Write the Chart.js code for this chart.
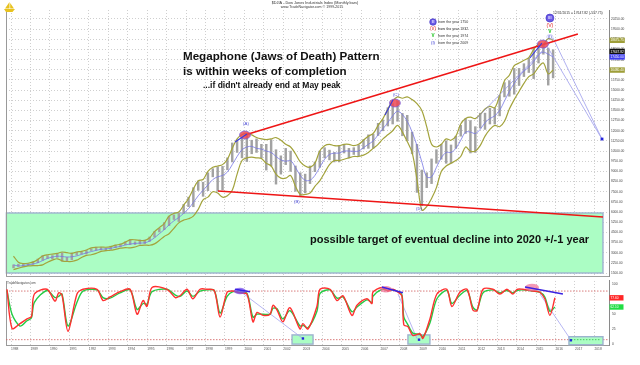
<!DOCTYPE html>
<html><head><meta charset="utf-8">
<script src="https://cdn.jsdelivr.net/npm/chart.js@4.4.1/dist/chart.umd.min.js"></script>
<style>
html,body{margin:0;padding:0;background:#fff;}
#wrap{position:relative;width:640px;height:365px;overflow:hidden;background:#fff;}
#c1{position:absolute;left:0;top:0;}
#c2{position:absolute;left:0;top:276px;}
</style></head><body>
<div id="wrap"><canvas id="c1" width="640" height="280"></canvas><canvas id="c2" width="640" height="89"></canvas></div>
<script>
const FAMILY = "'Liberation Sans', Arial, Helvetica, sans-serif";
const firstYear = 1988;
const xMin = 1987.74, xMax = 2018.75;

const yearTicks = [1988,1989,1990,1991,1992,1993,1994,1995,1996,1997,1998,1999,2000,2001,2002,2003,2004,2005,2006,2007,2008,2009,2010,2011,2012,2013,2014,2015,2016,2017,2018];
const priceTicks = [1500,2250,3000,3750,4500,5250,6000,6750,7500,8250,9000,9750,10500,11250,12000,12750,13500,14250,15000,15750,16500,17250,18000,18750,19500,20250];
const oscTicks = [0,25,50,75,100];

// quarterly price ranges 1988 Q1 .. 2015 Q4
const priceLow = [
1880,1980,1990,2040, 2140,2260,2440,2570, 2540,2650,2365,2365, 2470,2830,2900,2900,
3160,3180,3200,3140, 3240,3370,3450,3580, 3590,3600,3630,3670, 3830,4150,4530,4700,
5000,5450,5300,5900, 6400,6390,7600,7160, 7580,8600,7540,7630, 9120,9700,10400,10000,
9730,10300,10400,10000, 9100,9400,8060,8800, 9500,9000,7530,7200, 7420,8100,8980,9300,
10000,9850,9700,9700, 10360,10000,10250,10150, 10660,10700,10700,11650, 12000,12350,12500,12700,
11630,11280,10300,7450, 6470,7800,8100,9600, 9900,9600,9600,10700, 11600,11800,10360,10400,
12200,12100,12500,12500, 13100,14500,14550,14700, 15340,16000,16300,15850, 17000,17650,15370,15900];
const priceHigh = [
2100,2150,2150,2190, 2340,2530,2790,2790, 2790,2935,3000,2650, 2980,3040,3060,3170,
3290,3410,3400,3330, 3480,3560,3650,3800, 3980,3800,3950,3940, 4160,4560,4800,5220,
5700,5790,5900,6560, 7100,7800,8300,8200, 8900,9200,9340,9370, 10000,11100,11330,11500,
11750,11300,11400,11000, 11000,11350,10600,10150, 10700,10500,9400,8900, 8800,9400,9700,10500,
10750,10570,10400,10870, 10990,10700,10750,10950, 11350,11700,11750,12550, 12800,13700,14000,14200,
13280,13140,11900,11000, 9100,8900,9920,10600, 11000,11260,10950,11600, 12400,12900,12750,12300,
13300,13300,13650,13670, 14600,15550,15700,16600, 16600,16950,17350,18100, 18300,18350,18100,17980];
const movingAvg = [
2100,2020,2050,2110, 2160,2260,2420,2580, 2680,2740,2720,2680, 2700,2760,2870,2990,
3080,3170,3250,3280, 3320,3400,3470,3570, 3640,3680,3710,3730, 3860,4100,4400,4700,
5050,5350,5600,5900, 6250,6700,7200,7600, 8000,8400,8600,8700, 8950,9500,10100,10600,
10800,10850,10700,10650, 10500,10400,10100,9850, 9750,9800,9300,8700, 8350,8350,8700,9300,
9900,10250,10350,10350, 10500,10500,10480,10500, 10750,11000,11250,11700, 12150,12600,13100,13450,
13200,12700,11900,10900, 9700,8600,8600,9300, 10000,10400,10400,10700, 11300,11900,11900,11800,
12100,12600,12900,13100, 13500,14200,14900,15500, 16000,16400,16700,17100, 17600,17800,17650,17450];
const upperBand = [
2750,2300,2200,2220, 2300,2500,2750,2850, 2900,2950,3050,3000, 2950,3050,3100,3200,
3350,3400,3420,3400, 3450,3560,3620,3780, 3950,3950,3900,3900, 4100,4550,4850,5150,
5700,5900,6000,6500, 7000,7700,8300,8400, 9000,9300,9400,9500, 9900,10700,11400,11700,
11800,11700,11500,11400, 11350,11400,11500,11300, 11000,10800,10300,9700, 9400,9300,9600,10500,
10900,11000,10900,10900, 11000,11000,10900,11000, 11300,11600,11800,12400, 12900,13600,14200,14500,
14400,14500,14300,14000, 13500,12300,11000,10800, 11000,11400,11300,11600, 12500,12900,13000,12900,
13200,13600,13800,13700, 14600,15700,16100,16800, 17000,17200,17400,18000, 18400,18400,18800,18675.75];
const lowerBand = [
1750,1850,1950,2020, 2050,2050,2100,2300, 2450,2550,2400,2350, 2350,2450,2650,2800,
2850,2950,3100,3150, 3180,3250,3330,3380, 3350,3420,3530,3560, 3550,3650,3900,4200,
4400,4800,5200,5400, 5500,5700,6200,6900, 7100,7500,7400,7100, 7200,7600,8800,9800,
10000,10050,10000,9950, 9600,9400,8800,8500, 8500,8700,7900,7300, 7300,7400,7900,8300,
8900,9500,9800,9800, 9900,10000,10100,10100, 10200,10400,10700,11000, 11400,11700,12000,12400,
11900,11200,10400,8400, 6150,6400,7000,7800, 9000,9400,9600,9800, 10100,10800,10500,10500,
10900,11600,12100,12400, 12300,12700,13600,14300, 14900,15500,16000,16200, 16700,17000,16200,16480.4];
const lastClose = 17647.82;
const lastChange = -537.75;

// annotations in data units [year, price]
const trendUpper = [[2000.03, 11685], [2017.15, 19138]];
const trendLower = [[1998.64, 7552], [2018.44, 5633]];
const projectionA = [[2015.87, 18843], [2018.39, 11389]];
const projectionB = [[2015.56, 18253], [2018.39, 11389]];
const channelLine = [[2011.96, 12940], [2015.71, 18470]];
const peakLines = [[[1999.52, 11170], [2000.13, 11760]], [[2007.23, 13160], [2007.64, 14270]], [[2014.68, 17370], [2015.30, 18470]]];
const peakMarks = [[2000.03, 11685], [2007.74, 14046], [2015.35, 18400]];
const targetPoint = [2018.39, 11389];
const targetZone = [1987.76, 2018.44, 1500, 5930];
const waveLabels = ['(A)', '(B)', '(C)', '(D)'];
const waveYears = [2000.08, 2002.70, 2007.79, 2008.98];
const wavePrices = [12500, 6740, 14640, 6220];
const degreeYear = 2015.71;
const degreePrices = [20320, 19800, 19290, 18920];
const degreeLegend = ['from the year 1750', 'from the year 1932', 'from the year 1974', 'from the year 2009'];

// oscillator (stochastic) readings
const oscX = [1987.79,1988.05,1988.46,1988.82,1989.05,1989.2,1989.85,1990.26,1990.45,1990.62,1990.93,1991.39,1991.70,1992.42,1992.73,1993.09,1993.60,1994.12,1994.48,1994.79,1994.99,1995.25,1996.02,1996.45,1996.69,1997.05,1997.35,1997.72,1998.08,1998.45,1998.75,1999.11,1999.41,1999.75,2000.13,2000.44,2000.65,2000.96,2001.32,2001.47,2001.68,2001.98,2002.34,2002.86,2003.01,2003.27,2003.73,2003.89,2004.40,2004.76,2005.07,2005.53,2005.79,2006.30,2006.56,2006.61,2007.07,2007.38,2007.64,2007.90,2008.10,2008.20,2008.41,2008.66,2009.03,2009.18,2009.54,2009.90,2010.41,2010.67,2011.08,2011.45,2011.75,2011.96,2012.27,2012.78,2013.14,2013.50,2013.81,2014.02,2014.32,2014.83,2015.19,2015.45,2015.71,2015.97];
const oscK = [92,26,34,42,46,84,92,72,86,82,21,84,92,92,73,79,88,92,50,73,63,95,92,78,81,92,76,92,92,90,45,87,89,86,84,37,53,48,50,65,57,37,61,25,34,25,63,92,92,73,81,48,65,76,68,87,95,89,92,87,81,32,29,14,17,9,42,84,92,63,87,92,57,56,92,92,84,92,84,92,92,89,87,76,48,77.6];
const oscD = [90,50,30,39,44,70,90,78,80,84,30,70,89,91,78,77,86,91,58,68,67,88,92,82,80,89,80,89,91,90,52,80,88,87,85,45,50,50,50,60,59,42,56,30,31,27,55,85,91,77,79,54,62,74,70,80,92,90,91,88,83,45,32,18,16,12,35,76,90,68,82,90,62,57,86,91,86,90,86,90,91,89,87,79,55,62.1];
const oscLevels = [89, 7];
const oscZones = [[2002.45, 2003.53, -0.5, 15], [2008.41, 2009.54, -0.5, 15], [2016.69, 2018.44, -1.5, 12]];
const oscTargets = [[2003.01, 9], [2008.98, 7], [2016.79, 6]];
const oscProjections = [[[1999.77, 89], [2002.96, 10]], [[2007.90, 84], [2008.87, 9]], [[2015.20, 84], [2016.74, 9]]];
const oscDivergences = [[[1999.52, 92], [2000.29, 88]], [[2007.07, 96], [2008.15, 86]], [[2014.43, 96], [2016.38, 84]]];
const oscMarks = [[1999.77, 89], [2007.28, 92], [2014.79, 95]];

// ---------- helpers ----------
const quarterX = priceLow.map((_, i) => firstYear + i * 0.25 + 0.125);
const pt = a => ({x: a[0], y: a[1]});
const seg = (pair, color, width, extra) => Object.assign({type: 'line', data: pair.map(pt), borderColor: color, borderWidth: width, pointRadius: 0, tension: 0, fill: false}, extra || {});
const font = (size, bold) => (bold ? 'bold ' : '') + size + 'px ' + FAMILY;

function ellipse(ctx, x, y, rx, ry, fill, stroke, lw) {
  ctx.save();
  ctx.beginPath();
  ctx.ellipse(x, y, rx, ry, 0, 0, Math.PI * 2);
  if (fill) { ctx.fillStyle = fill; ctx.fill(); }
  if (stroke) { ctx.strokeStyle = stroke; ctx.lineWidth = lw || 0.8; ctx.stroke(); }
  ctx.restore();
}
function text(ctx, str, x, y, f, color, align) {
  ctx.save();
  ctx.font = f; ctx.fillStyle = color; ctx.textAlign = align || 'left'; ctx.textBaseline = 'middle';
  ctx.fillText(str, x, y);
  ctx.restore();
}
function valueBox(ctx, x, y, str, bg, fg) {
  ctx.save();
  ctx.font = font(3.2);
  const w = Math.max(14, ctx.measureText(str).width + 2);
  ctx.fillStyle = bg; ctx.fillRect(x, y - 2.7, w, 5.4);
  ctx.fillStyle = fg; ctx.textBaseline = 'middle'; ctx.textAlign = 'left';
  ctx.fillText(str, x + 1, y + 0.2);
  ctx.restore();
}
function greenZone(ctx, x0, x1, y0, y1) {
  ctx.save();
  ctx.fillStyle = '#abfdc4';
  ctx.fillRect(x0, y1, x1 - x0, y0 - y1);
  ctx.strokeStyle = '#9db3cf'; ctx.lineWidth = 1.4;
  ctx.strokeRect(x0, y1, x1 - x0, y0 - y1);
  ctx.restore();
}
function circledNumeral(ctx, x, y, r) {
  ellipse(ctx, x, y, r, r, '#6b5be6', '#3b2bc0', 0.6);
  text(ctx, 'III', x, y + 0.2, font(r * 0.95, true), '#e8e4ff', 'center');
}

// ---------- main panel ----------
const mainDecor = {
  id: 'mainDecor',
  beforeDatasetsDraw(chart) {
    const {ctx, chartArea, scales: {x, y}} = chart;
    greenZone(ctx, x.getPixelForValue(targetZone[0]), x.getPixelForValue(targetZone[1]), y.getPixelForValue(targetZone[2]), y.getPixelForValue(targetZone[3]));
    ctx.save(); ctx.strokeStyle = '#9a9a9a'; ctx.lineWidth = 1;
    ctx.beginPath(); ctx.moveTo(chartArea.left + 0.5, chartArea.top); ctx.lineTo(chartArea.left + 0.5, chartArea.bottom); ctx.stroke(); ctx.restore();
  },
  afterDatasetsDraw(chart) {
    const {ctx, scales: {x, y}} = chart;
    peakMarks.forEach(p => {
      const px = x.getPixelForValue(p[0]), py = y.getPixelForValue(p[1]);
      ellipse(ctx, px, py, 5.5, 4, 'rgba(236,72,84,0.85)', 'rgba(110,90,230,0.9)', 0.7);
    });
    peakLines.forEach(l => {
      ctx.save(); ctx.strokeStyle = '#3a3ae0'; ctx.lineWidth = 1.1; ctx.beginPath();
      ctx.moveTo(x.getPixelForValue(l[0][0]), y.getPixelForValue(l[0][1]));
      ctx.lineTo(x.getPixelForValue(l[1][0]), y.getPixelForValue(l[1][1])); ctx.stroke(); ctx.restore();
    });
    waveLabels.forEach((s, i) => text(ctx, s, x.getPixelForValue(waveYears[i]), y.getPixelForValue(wavePrices[i]), font(4.3), '#4a4ad8', 'center'));
    const sx = x.getPixelForValue(degreeYear);
    circledNumeral(ctx, sx, y.getPixelForValue(degreePrices[0]), 4);
    text(ctx, '(V)', sx, y.getPixelForValue(degreePrices[1]), font(5.2), '#e02828', 'center');
    text(ctx, 'V', sx, y.getPixelForValue(degreePrices[2]), font(5, true), '#18c018', 'center');
    ellipse(ctx, sx, y.getPixelForValue(degreePrices[3]), 3.2, 2.6, null, '#b0b0f0', 0.5);
    text(ctx, '(I)', sx, y.getPixelForValue(degreePrices[3]), font(4.2), '#3030d0', 'center');
  },
  afterDraw(chart) {
    const {ctx, chartArea, scales: {x, y}} = chart;
    // logo
    ctx.save(); ctx.fillStyle = '#e8c21e';
    ctx.beginPath(); ctx.moveTo(4, 9); ctx.lineTo(15, 9); ctx.lineTo(12.5, 12); ctx.lineTo(6, 12); ctx.closePath(); ctx.fill();
    ctx.beginPath(); ctx.moveTo(9.5, 2); ctx.lineTo(9.5, 8.5); ctx.lineTo(5, 8.5); ctx.closePath(); ctx.fill();
    ctx.beginPath(); ctx.moveTo(10.2, 3); ctx.lineTo(14, 8.5); ctx.lineTo(10.2, 8.5); ctx.closePath(); ctx.fill();
    ctx.restore();
    // header
    text(ctx, '$DJIA - Dow Jones Industrials Index (Monthly bars)', 315, 3.4, font(3.8), '#333', 'center');
    text(ctx, 'www.TradeNavigator.com \u00A9 1999-2015', 312, 7.4, font(3.6), '#333', 'center');
    // commentary
    text(ctx, 'Megaphone (Jaws of Death) Pattern', 183, 56.5, font(11.6, true), '#111');
    text(ctx, 'is within weeks of completion', 183, 71.5, font(11.6, true), '#111');
    text(ctx, "...if didn't already end at May peak", 203, 86, font(8.5, true), '#111');
    text(ctx, 'possible target of eventual decline into 2020 +/-1 year', 310, 240, font(11, true), '#111');
    // degree legend
    const lx = 433, ly = [22, 29, 36, 43];
    circledNumeral(ctx, lx, ly[0], 3.3);
    text(ctx, '(V)', lx, ly[1], font(4.6), '#e02828', 'center');
    text(ctx, 'V', lx, ly[2], font(4.6, true), '#18c018', 'center');
    text(ctx, '(I)', lx, ly[3], font(4.2), '#3030d0', 'center');
    degreeLegend.forEach((s, i) => text(ctx, s, 438, ly[i], font(3.6), '#333'));
    // last value line
    text(ctx, '12/31/2015 = ' + lastClose.toFixed(2) + ' (' + (lastChange > 0 ? '+' : '') + lastChange.toFixed(2) + ')', 553, 12.8, font(3.4), '#333');
    // right-axis value boxes
    const bx = chartArea.right + 0.5;
    const n = movingAvg.length - 1;
    const yU = y.getPixelForValue(upperBand[n]);
    const yM = y.getPixelForValue(movingAvg[n]);
    let yC = y.getPixelForValue(lastClose);
    if (yM - yC < 5.5) yC = yM - 5.5;
    const yL = y.getPixelForValue(lowerBand[n]);
    valueBox(ctx, bx, yU, upperBand[n].toFixed(2), '#9e9e38', '#fff');
    valueBox(ctx, bx, yC, lastClose.toFixed(2), '#111', '#fff');
    valueBox(ctx, bx, yM, movingAvg[n].toFixed(2), '#3c3cf0', '#fff');
    valueBox(ctx, bx, yL, lowerBand[n].toFixed(2), '#9e9e38', '#fff');
  }
};

new Chart(document.getElementById('c1'), {
  type: 'line',
  data: {
    datasets: [
      seg(trendUpper, '#ee1515', 1.6),
      seg(trendLower, '#ee1515', 1.6),
      {type: 'line', data: [pt(targetPoint)], showLine: false, pointStyle: 'rect', pointRadius: 2, backgroundColor: '#2424dd', borderColor: '#2424dd', borderWidth: 0},
      seg(projectionA, '#9d9dec', 0.8),
      seg(projectionB, '#9d9dec', 0.8),
      seg(channelLine, '#8c8ce8', 0.7),
      {type: 'line', data: quarterX.map((x, i) => ({x, y: movingAvg[i]})), borderColor: '#7676e4', borderWidth: 0.8, pointRadius: 0, tension: 0.35},
      {type: 'line', data: quarterX.map((x, i) => ({x, y: upperBand[i]})), borderColor: '#a3a33c', borderWidth: 1.2, pointRadius: 0, tension: 0.35},
      {type: 'line', data: quarterX.map((x, i) => ({x, y: lowerBand[i]})), borderColor: '#a3a33c', borderWidth: 1.2, pointRadius: 0, tension: 0.35},
      {type: 'bar', data: quarterX.map((x, i) => ({x, y: [priceLow[i], priceHigh[i]]})), backgroundColor: '#a2a2a2', barThickness: 1.8, grouped: false}
    ]
  },
  options: {
    responsive: false, animation: false, events: [],
    layout: {padding: {left: 6, right: 0, top: 10, bottom: 4}, autoPadding: false},
    plugins: {legend: {display: false}, tooltip: {enabled: false}},
    scales: {
      x: {type: 'linear', min: xMin, max: xMax, offset: false,
          afterBuildTicks: s => { s.ticks = yearTicks.map(v => ({value: v})); },
          ticks: {display: false}, grid: {color: '#cfcfcf', drawTicks: false, offset: false},
          border: {dash: [1, 2], color: '#a0a0a0'},
          afterFit: s => { s.height = 0; }},
      y: {position: 'right', min: 1279, max: 20914,
          afterBuildTicks: s => { s.ticks = priceTicks.map(v => ({value: v})); },
          ticks: {callback: v => Number(v).toFixed(2), font: {size: 3.2, family: FAMILY}, color: '#444', padding: 2},
          grid: {color: '#cfcfcf', drawTicks: false},
          border: {dash: [1, 2], color: '#8a8a8a'},
          afterFit: s => { s.width = 31; }}
    }
  },
  plugins: [mainDecor]
});

// ---------- oscillator panel ----------
const oscDecor = {
  id: 'oscDecor',
  beforeDatasetsDraw(chart) {
    const {ctx, chartArea, scales: {x, y}} = chart;
    ctx.save(); ctx.strokeStyle = '#9a9a9a'; ctx.lineWidth = 1;
    ctx.beginPath(); ctx.moveTo(chartArea.left + 0.5, chartArea.top); ctx.lineTo(chartArea.left + 0.5, chartArea.bottom); ctx.stroke(); ctx.restore();
    oscLevels.forEach(v => {
      ctx.save(); ctx.strokeStyle = '#cf5a5a'; ctx.lineWidth = 0.8; ctx.setLineDash([1.5, 1.5]);
      ctx.beginPath(); ctx.moveTo(chartArea.left, y.getPixelForValue(v)); ctx.lineTo(chartArea.right, y.getPixelForValue(v)); ctx.stroke(); ctx.restore();
    });
    oscZones.forEach(z => greenZone(ctx, x.getPixelForValue(z[0]), x.getPixelForValue(z[1]), y.getPixelForValue(z[2]), y.getPixelForValue(z[3])));
    const last = oscZones[oscZones.length - 1];
    ctx.save(); ctx.strokeStyle = '#33bb44'; ctx.lineWidth = 0.8; ctx.setLineDash([1.5, 1.5]);
    ctx.beginPath(); ctx.moveTo(x.getPixelForValue(last[0]) + 2, y.getPixelForValue(oscLevels[1])); ctx.lineTo(x.getPixelForValue(last[1]) - 2, y.getPixelForValue(oscLevels[1])); ctx.stroke(); ctx.restore();
    text(ctx, 'TradeNavigator.com', 7, chartArea.top + 2.2, font(3.2), '#444');
  },
  afterDatasetsDraw(chart) {
    const {ctx, scales: {x, y}} = chart;
    oscMarks.forEach((m, i) => {
      const col = i === 0 ? 'rgba(120,80,235,0.75)' : 'rgba(240,110,150,0.7)';
      ellipse(ctx, x.getPixelForValue(m[0]), y.getPixelForValue(m[1]), i === 2 ? 7 : 6, i === 2 ? 3.8 : 3.2, col, null);
    });
    oscDivergences.forEach(l => {
      ctx.save(); ctx.strokeStyle = '#3a22e2'; ctx.lineWidth = 1.5; ctx.beginPath();
      ctx.moveTo(x.getPixelForValue(l[0][0]), y.getPixelForValue(l[0][1]));
      ctx.lineTo(x.getPixelForValue(l[1][0]), y.getPixelForValue(l[1][1])); ctx.stroke(); ctx.restore();
    });
  },
  afterDraw(chart) {
    const {ctx, chartArea, scales: {y}} = chart;
    const n = oscK.length - 1;
    valueBox(ctx, chartArea.right + 0.5, y.getPixelForValue(oscK[n]), oscK[n].toFixed(2), '#ff2626', '#fff');
    valueBox(ctx, chartArea.right + 0.5, y.getPixelForValue(oscD[n]), oscD[n].toFixed(2), '#22dd44', '#fff');
  }
};

new Chart(document.getElementById('c2'), {
  type: 'line',
  data: {
    datasets: [
      {type: 'line', data: oscTargets.map(pt), showLine: false, pointStyle: 'rect', pointRadius: 1.7, backgroundColor: '#2424dd', borderColor: '#2424dd', borderWidth: 0},
      {type: 'line', data: oscX.map((x, i) => ({x, y: oscK[i]})), borderColor: '#ff3030', borderWidth: 1.4, pointRadius: 0, tension: 0.3},
      {type: 'line', data: oscX.map((x, i) => ({x, y: oscD[i]})), borderColor: '#22cc44', borderWidth: 1.4, pointRadius: 0, tension: 0.3},
      ...oscProjections.map(p => seg(p, '#a4a4f0', 0.8))
    ]
  },
  options: {
    responsive: false, animation: false, events: [],
    layout: {padding: {left: 6, right: 0, top: 0, bottom: 0}, autoPadding: false},
    plugins: {legend: {display: false}, tooltip: {enabled: false}},
    scales: {
      x: {type: 'linear', min: xMin, max: xMax, offset: false,
          afterBuildTicks: s => { s.ticks = yearTicks.map(v => ({value: v})); },
          ticks: {callback: v => String(v), font: {size: 3.3, family: FAMILY}, color: '#555', padding: 2, maxRotation: 0, autoSkip: false, align: 'start'},
          grid: {color: '#cfcfcf', drawTicks: false},
          border: {dash: [1, 2], color: '#9a9a9a'},
          afterFit: s => { s.height = 20; }},
      y: {position: 'right', min: -2, max: 106,
          afterBuildTicks: s => { s.ticks = oscTicks.map(v => ({value: v})); },
          ticks: {callback: v => String(v), font: {size: 3.3, family: FAMILY}, color: '#444', padding: 3},
          grid: {display: false, drawTicks: false},
          border: {color: '#8a8a8a'},
          afterFit: s => { s.width = 31; }}
    }
  },
  plugins: [oscDecor]
});
</script>
</body></html>
